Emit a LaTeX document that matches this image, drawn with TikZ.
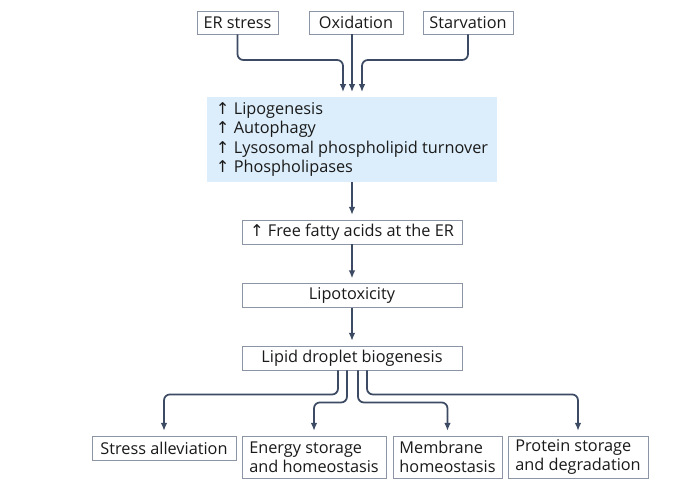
\documentclass[tikz,border=0pt]{standalone}
\usepackage{fontspec}
\setmainfont{Open Sans}
\newfontfamily\arrowfont{DejaVu Sans}
\usetikzlibrary{arrows.meta}
\definecolor{diagramBox}{HTML}{8C95A5}
\definecolor{diagramFill}{HTML}{DCEEFB}
\definecolor{diagramFlow}{HTML}{3C4B63}
\definecolor{diagramText}{HTML}{1A1A1A}
\newcommand{\up}{{\arrowfont\char"2191}\ }

\begin{document}
\begin{tikzpicture}[
    x=0.03cm,y=-0.03cm,
    every node/.style={font=\fontsize{13.9}{16.6}\selectfont,text=diagramText,inner sep=0pt},
    stress/.style={draw=diagramBox,line width=0.8pt,fill=white,minimum height=0.69cm,align=center},
    step box/.style={draw=diagramBox,line width=0.8pt,fill=white,minimum width=6.6cm,minimum height=0.72cm,align=center},
    change/.style={fill=diagramFill,minimum width=8.67cm,minimum height=2.55cm,align=left},
    outcome/.style={draw=diagramBox,line width=0.8pt,fill=white,minimum height=1.26cm,align=left},
    flow/.style={-{Latex[length=2.4mm,width=2mm]},draw=diagramFlow,line width=1.5pt,rounded corners=5pt,shorten >=4pt}
]
\useasboundingbox[fill=white] (0,0) rectangle (680,486);
% stresses
\node[stress,minimum width=2.43cm] (er) at (237.5,22.5) {ER stress};
\node[stress,minimum width=2.82cm] (ox) at (356,22.5) {Oxidation};
\node[stress,minimum width=2.7cm] (starv) at (468,22.5) {Starvation};
% cellular response
\node[change] (resp) at (352,139.5) {\up Lipogenesis\\\up Autophagy\\\up Lysosomal phospholipid turnover\\\up Phospholipases};
\node[step box] (ffa) at (352,232) {\up Free fatty acids at the ER};
\node[step box] (lipotox) at (352,295.5) {Lipotoxicity};
\node[step box] (ldb) at (352,358) {Lipid droplet biogenesis};
% outcomes
\node[outcome,minimum height=0.72cm,minimum width=4.32cm] (alleviate) at (164,448) {Stress alleviation};
\node[outcome,minimum width=4.32cm] (energy) at (314,457) {Energy storage\\and homeostasis};
\node[outcome,minimum width=3.27cm] (membrane) at (447.5,457) {Membrane\\homeostasis};
\node[outcome,minimum width=4.2cm] (protein) at (578,457) {Protein storage\\and degradation};
\coordinate (topbend) at (0,60);
\draw[flow] (er.south) |- ([xshift=-0.27cm]resp.north |- topbend) -- ([xshift=-0.27cm]resp.north);
\draw[flow] (ox.south -| resp.north) -- (resp.north);
\draw[flow] (starv.south) |- ([xshift=0.3cm]resp.north |- topbend) -- ([xshift=0.3cm]resp.north);
\draw[flow] (resp) -- (ffa);
\draw[flow] (ffa) -- (lipotox);
\draw[flow] (lipotox) -- (ldb);
\draw[flow] ([xshift=-0.42cm]ldb.south) -- ++(0,24) -| (alleviate.north);
\draw[flow] ([xshift=-0.15cm]ldb.south) -- ++(0,32) -| (energy.north);
\draw[flow] ([xshift=0.18cm]ldb.south) -- ++(0,32) -| (membrane.north);
\draw[flow] ([xshift=0.45cm]ldb.south) -- ++(0,24) -| (protein.north);
\end{tikzpicture}
\end{document}
